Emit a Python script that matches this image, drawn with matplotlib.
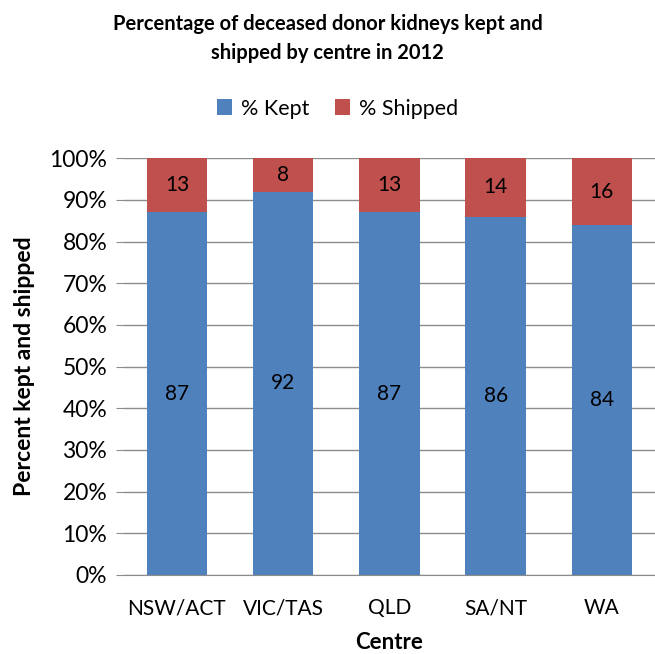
import matplotlib.pyplot as plt
import numpy as np
from matplotlib.ticker import PercentFormatter

#-------------------------------------------------------------------------
# Data
#-------------------------------------------------------------------------

centres = [ 'NSW/ACT', 'VIC/TAS', 'QLD', 'SA/NT', 'WA' ]
kept    = [ 87, 92, 87, 86, 84 ]
shipped = [ 13,  8, 13, 14, 16 ]

series_names = [ '% Kept', '% Shipped' ]
colors = [ '#4F81BD', '#C0504D' ]

#-------------------------------------------------------------------------
# Configure matplotlib
#-------------------------------------------------------------------------

plt.rcParams['font.family'] = [ 'Lato', 'DejaVu Sans' ]
plt.rcParams['font.size']   = 13

fig = plt.figure( figsize=(6.55, 6.54), dpi=100 )
ax  = fig.add_axes( [0.189, 0.121, 0.811, 0.637] )

ind = np.arange( len(centres) )
width = 0.57

b1 = ax.bar( ind, kept, width, color=colors[0], zorder=2, label=series_names[0] )
b2 = ax.bar( ind, shipped, width, bottom=kept, color=colors[1], zorder=2,
             label=series_names[1] )

for i in ind:
  ax.text( i, kept[i] / 2.0, str(kept[i]), ha='center', va='center', fontsize=15 )
  ax.text( i, kept[i] + shipped[i] / 2.0, str(shipped[i]), ha='center',
           va='center', fontsize=15 )

ax.set_xlim( -0.5, len(centres) - 0.5 )
ax.set_ylim( 0, 100 )
ax.set_yticks( np.arange( 0, 101, 10 ) )
ax.yaxis.set_major_formatter( PercentFormatter( decimals=0 ) )
ax.set_xticks( ind )
ax.set_xticklabels( centres )

ax.yaxis.grid( True, color='#8c8c8c', linewidth=1.0, zorder=0 )
ax.set_axisbelow( True )

for s in [ 'top', 'right', 'left' ]:
  ax.spines[s].set_visible( False )
ax.spines['bottom'].set_color( '#8c8c8c' )
ax.tick_params( axis='y', length=6, color='#8c8c8c', pad=6, labelsize=16.5 )
ax.tick_params( axis='x', length=0, pad=17, labelsize=15 )

ax.set_xlabel( 'Centre', fontweight='bold', fontsize=16, labelpad=10 )
ax.set_ylabel( 'Percent kept and shipped', fontweight='bold', fontsize=16.5,
               labelpad=10 )

fig.text( 0.5, 0.941, 'Percentage of deceased donor kidneys kept and\nshipped by centre in 2012',
          ha='center', va='center', fontweight='bold', fontsize=14.5,
          linespacing=1.55 )

fig.legend( handles=[b1, b2], loc='center', bbox_to_anchor=(0.515, 0.834),
            ncol=2, frameon=False, fontsize=15.5, handlelength=0.7,
            handleheight=0.7, handletextpad=0.4, columnspacing=1.2 )

plt.savefig( 'out.png', dpi=100 )
